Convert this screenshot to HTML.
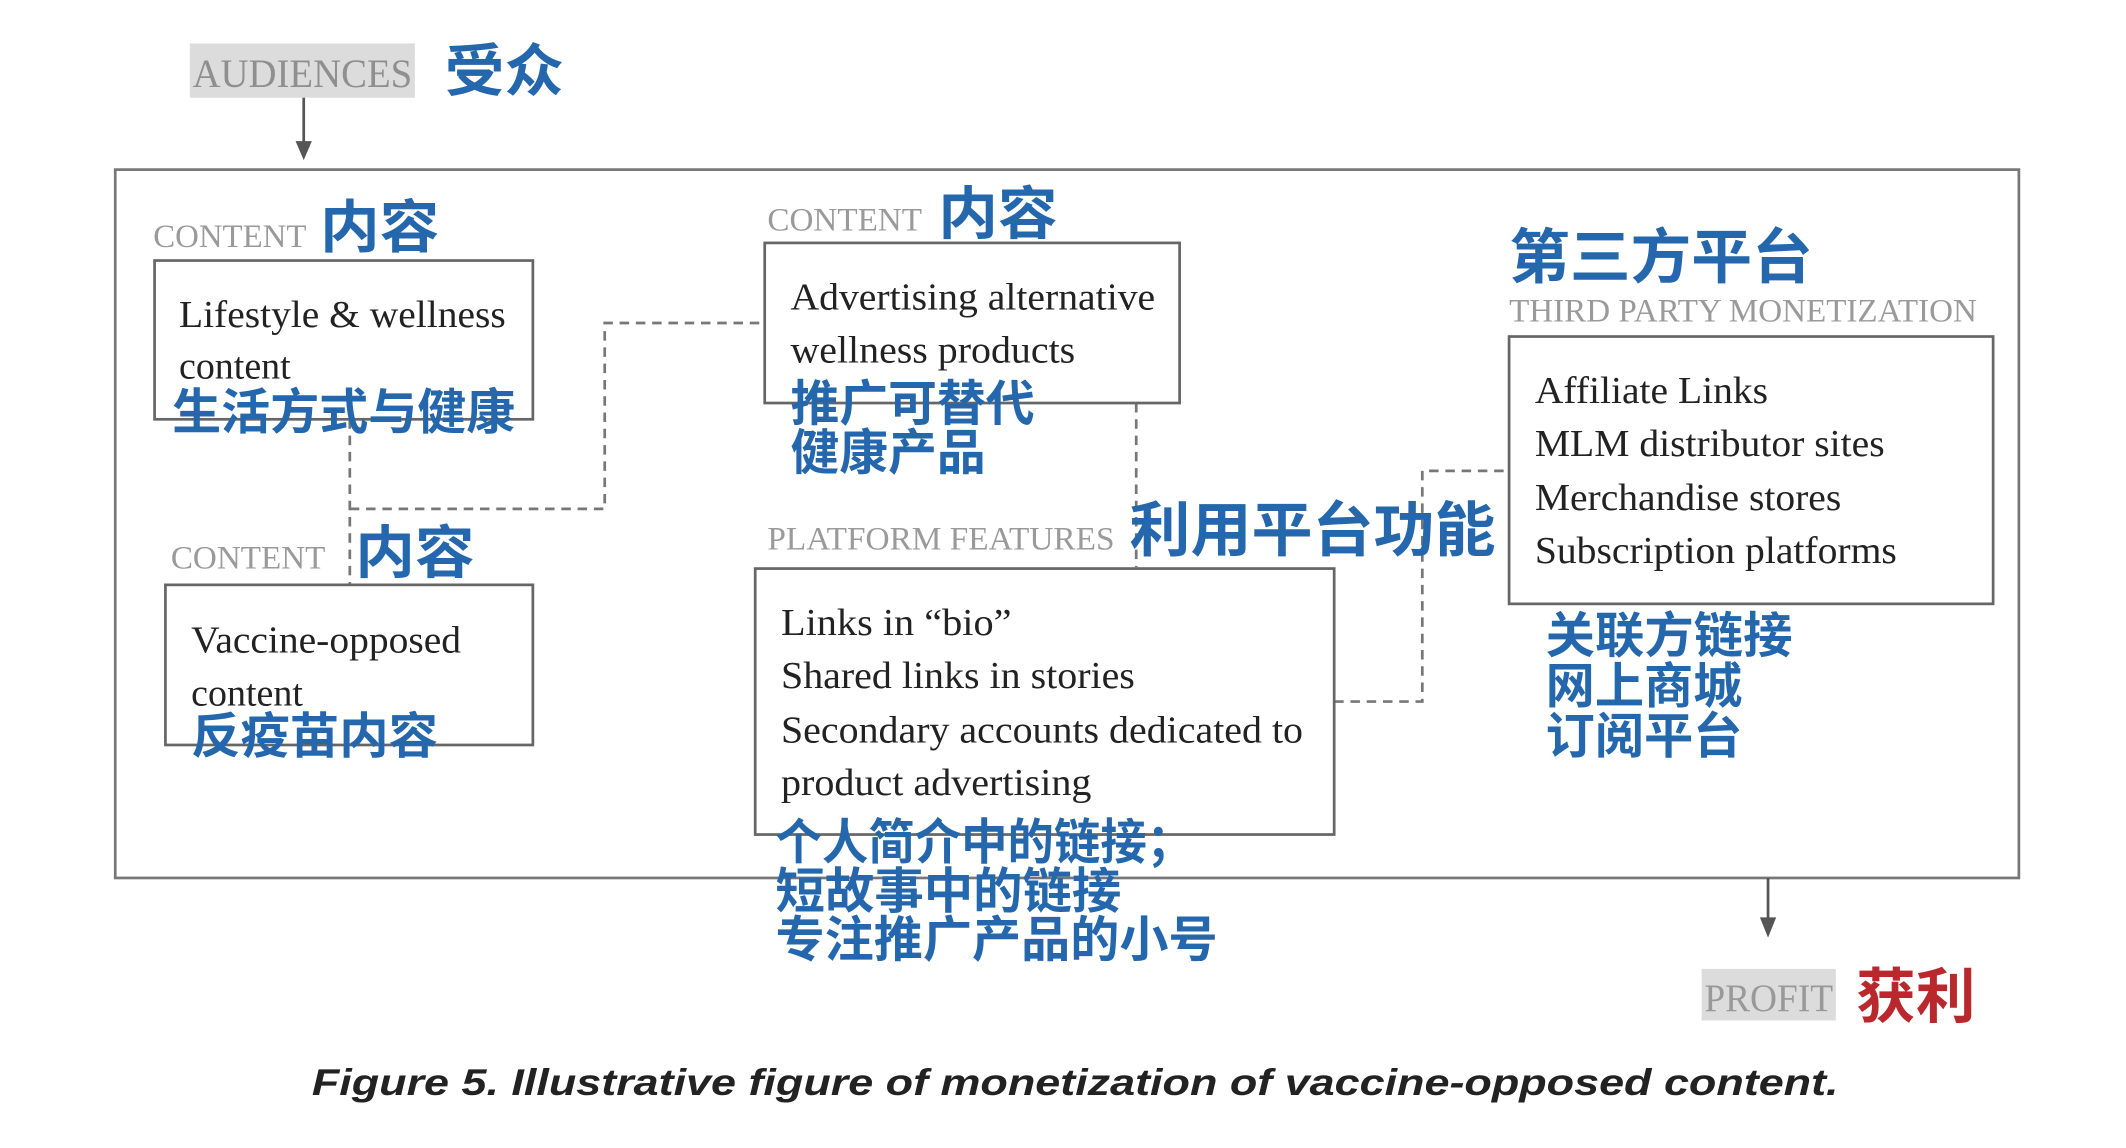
<!DOCTYPE html>
<html><head><meta charset="utf-8">
<style>
html,body{margin:0;padding:0;background:#fff;}
svg{display:block;}
.s{font-family:"Liberation Serif",serif;fill:#222;font-size:28px;}
.g{font-family:"Liberation Serif",serif;fill:#9a9a9a;font-size:24px;}
.c{font-family:"Liberation Sans","Noto Sans CJK SC",sans-serif;fill:#2467ad;font-weight:bold;}
</style></head>
<body>
<svg width="2126" height="1148" viewBox="0 0 1568 846" preserveAspectRatio="none" xmlns="http://www.w3.org/2000/svg">
<rect width="1568" height="846" fill="#fff"/>
<!-- audiences -->
<rect x="140" y="32" width="166" height="40" fill="#dcdcdc"/>
<text x="142" y="64" class="g" style="font-size:30px;fill:#8f8f8f" textLength="162" lengthAdjust="spacingAndGlyphs">AUDIENCES</text>
<text x="328" y="67" class="c" style="font-size:42px" textLength="88" lengthAdjust="spacingAndGlyphs">受众</text>
<line x1="224" y1="72" x2="224" y2="106" stroke="#555" stroke-width="2"/>
<polygon points="218,104 230,104 224,118" fill="#555"/>
<!-- outer box -->
<rect x="85" y="125" width="1404" height="522" fill="none" stroke="#777" stroke-width="2"/>
<!-- dashed connectors -->
<g fill="none" stroke="#777" stroke-width="2" stroke-dasharray="7,5">
<polyline points="258,309 258,430"/>
<polyline points="258,375 446,375 446,238 564,238"/>
<polyline points="838,297 838,418"/>
<polyline points="984,517 1049,517 1049,347 1112,347"/>
</g>
<!-- box1 -->
<text x="113" y="182" class="g" textLength="113" lengthAdjust="spacingAndGlyphs">CONTENT</text>
<text x="236" y="182" class="c" style="font-size:42px" textLength="88" lengthAdjust="spacingAndGlyphs">内容</text>
<rect x="114" y="192" width="279" height="117" fill="none" stroke="#666" stroke-width="2"/>
<text x="132" y="241" class="s" textLength="241" lengthAdjust="spacingAndGlyphs">Lifestyle &amp; wellness</text>
<text x="132" y="279" class="s">content</text>
<text x="127" y="316" class="c" style="font-size:36px" textLength="253" lengthAdjust="spacingAndGlyphs">生活方式与健康</text>
<!-- box2 -->
<text x="126" y="419" class="g" textLength="114" lengthAdjust="spacingAndGlyphs">CONTENT</text>
<text x="262" y="422" class="c" style="font-size:42px" textLength="88" lengthAdjust="spacingAndGlyphs">内容</text>
<rect x="122" y="431" width="271" height="118" fill="none" stroke="#666" stroke-width="2"/>
<text x="141" y="481" class="s" textLength="199" lengthAdjust="spacingAndGlyphs">Vaccine-opposed</text>
<text x="141" y="520" class="s">content</text>
<text x="141" y="555" class="c" style="font-size:36px" textLength="182" lengthAdjust="spacingAndGlyphs">反疫苗内容</text>
<!-- box3 -->
<text x="566" y="170" class="g" textLength="114" lengthAdjust="spacingAndGlyphs">CONTENT</text>
<text x="692" y="172" class="c" style="font-size:42px" textLength="88" lengthAdjust="spacingAndGlyphs">内容</text>
<rect x="564" y="179" width="306" height="118" fill="none" stroke="#666" stroke-width="2"/>
<text x="583" y="228" class="s" textLength="269" lengthAdjust="spacingAndGlyphs">Advertising alternative</text>
<text x="583" y="267" class="s" textLength="210" lengthAdjust="spacingAndGlyphs">wellness products</text>
<text x="583" y="310" class="c" style="font-size:36px" textLength="180" lengthAdjust="spacingAndGlyphs">推广可替代</text>
<text x="583" y="346" class="c" style="font-size:36px" textLength="144" lengthAdjust="spacingAndGlyphs">健康产品</text>
<!-- box4 -->
<text x="566" y="405" class="g" textLength="256" lengthAdjust="spacingAndGlyphs">PLATFORM FEATURES</text>
<text x="833" y="406" class="c" style="font-size:44px" textLength="270" lengthAdjust="spacingAndGlyphs">利用平台功能</text>
<rect x="557" y="419" width="427" height="196" fill="none" stroke="#666" stroke-width="2"/>
<text x="576" y="468" class="s" textLength="170" lengthAdjust="spacingAndGlyphs">Links in “bio”</text>
<text x="576" y="507" class="s" textLength="261" lengthAdjust="spacingAndGlyphs">Shared links in stories</text>
<text x="576" y="547" class="s" textLength="385" lengthAdjust="spacingAndGlyphs">Secondary accounts dedicated to</text>
<text x="576" y="586" class="s" textLength="229" lengthAdjust="spacingAndGlyphs">product advertising</text>
<text x="572" y="633" class="c" style="font-size:36px" textLength="308" lengthAdjust="spacingAndGlyphs">个人简介中的链接；</text>
<text x="572" y="669" class="c" style="font-size:36px" textLength="255" lengthAdjust="spacingAndGlyphs">短故事中的链接</text>
<text x="572" y="705" class="c" style="font-size:36px" textLength="326" lengthAdjust="spacingAndGlyphs">专注推广产品的小号</text>
<!-- box5 -->
<text x="1113" y="205" class="c" style="font-size:44px" textLength="224" lengthAdjust="spacingAndGlyphs">第三方平台</text>
<text x="1113" y="237" class="g" textLength="345" lengthAdjust="spacingAndGlyphs">THIRD PARTY MONETIZATION</text>
<rect x="1113" y="248" width="357" height="197" fill="none" stroke="#666" stroke-width="2"/>
<text x="1132" y="297" class="s" textLength="172" lengthAdjust="spacingAndGlyphs">Affiliate Links</text>
<text x="1132" y="336" class="s" textLength="258" lengthAdjust="spacingAndGlyphs">MLM distributor sites</text>
<text x="1132" y="376" class="s" textLength="226" lengthAdjust="spacingAndGlyphs">Merchandise stores</text>
<text x="1132" y="415" class="s" textLength="267" lengthAdjust="spacingAndGlyphs">Subscription platforms</text>
<text x="1140" y="481" class="c" style="font-size:36px" textLength="182" lengthAdjust="spacingAndGlyphs">关联方链接</text>
<text x="1140" y="518" class="c" style="font-size:36px" textLength="145" lengthAdjust="spacingAndGlyphs">网上商城</text>
<text x="1140" y="555" class="c" style="font-size:36px" textLength="145" lengthAdjust="spacingAndGlyphs">订阅平台</text>
<!-- profit -->
<line x1="1304" y1="647" x2="1304" y2="678" stroke="#555" stroke-width="2"/>
<polygon points="1298,676 1310,676 1304,691" fill="#555"/>
<rect x="1255" y="714" width="99" height="38" fill="#dcdcdc"/>
<text x="1257" y="745" class="g" style="font-size:29px;fill:#999" textLength="95" lengthAdjust="spacingAndGlyphs">PROFIT</text>
<text x="1369" y="750" class="c" style="font-size:44px;fill:#b8282d" textLength="88" lengthAdjust="spacingAndGlyphs">获利</text>
<!-- caption -->
<text x="230" y="807" style="font-family:'Liberation Sans',sans-serif;font-weight:bold;font-style:italic;font-size:27px;fill:#222" textLength="1126" lengthAdjust="spacingAndGlyphs">Figure 5. Illustrative figure of monetization of vaccine-opposed content.</text>
</svg>
</body></html>
